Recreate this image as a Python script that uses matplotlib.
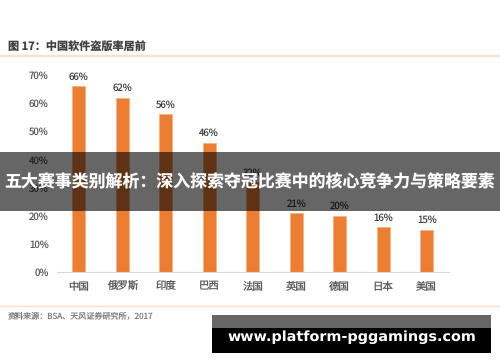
import matplotlib.pyplot as plt
from matplotlib.patches import Rectangle

plt.rcParams['font.family'] = ['Noto Sans CJK SC', 'DejaVu Sans']
plt.rcParams['text.hinting'] = 'no_hinting'

countries = ["中国", "俄罗斯", "印度", "巴西", "法国", "英国", "德国", "日本", "美国"]
piracy_rate = [66, 62, 56, 46, 32, 21, 20, 16, 15]
y_ticks = [0, 10, 20, 30, 40, 50, 60, 70]

title = "图 17：中国软件盗版率居前"
source = "资料来源：BSA、天风证券研究所，2017"
banner = "五大赛事类别解析：深入探索夺冠比赛中的核心竞争力与策略要素"
site = "www.platform-pggamings.com"

fig = plt.figure(figsize=(5, 3.62), dpi=100)
ax = fig.add_axes([0.114, 0.2486, 0.783, 0.544])

x = range(len(countries))
ax.bar(x, piracy_rate, width=0.3, color="#ED7D31", edgecolor="#F4B183", linewidth=0.5)
for xi, v in zip(x, piracy_rate):
    ax.text(xi, v + 1.5, f"{v}%", ha="center", va="bottom", fontsize=7, color="#404040")

ax.set_xlim(-0.5, len(countries) - 0.5)
ax.set_ylim(0, 70)
ax.set_yticks(y_ticks)
ax.set_yticklabels([f"{t}%" for t in y_ticks], fontsize=7, color="#595959")
ax.set_xticks(list(x))
ax.set_xticklabels(countries, fontsize=7.5, color="#595959")
for lab in ax.get_xticklabels():
    lab.set_va("baseline")
ax.tick_params(axis="y", length=0, pad=6)
ax.tick_params(axis="x", length=0, pad=12.5)
for s in ["top", "right", "left"]:
    ax.spines[s].set_visible(False)
ax.spines["bottom"].set_color("#D9D9D9")

# header / footer decoration
fig.text(0.016, 0.873, title, fontsize=8, fontweight="bold", color="#404040", va="center")
fig.add_artist(plt.Line2D([0, 1], [0.845, 0.845], color="#FBE0C8", lw=1.5))
fig.add_artist(plt.Line2D([0, 1], [0.155, 0.155], color="#FBE0C8", lw=1))
fig.text(0.016, 0.124, source, fontsize=5.8, color="#7F7F7F", va="center")

# overlay banner
fig.add_artist(Rectangle((0, 0.417), 1, 0.163, transform=fig.transFigure,
                         facecolor="black", alpha=0.6, edgecolor="none"))
fig.text(0.5, 0.495, banner, fontsize=12.2, fontweight="bold", color="white",
         ha="center", va="center")

# site box
fig.add_artist(Rectangle((0.424, 0.025), 0.558, 0.069, transform=fig.transFigure,
                         facecolor="black", edgecolor="none"))
fig.add_artist(Rectangle((0.424, 0.094), 0.558, 0.036, transform=fig.transFigure,
                         facecolor="#666666", edgecolor="none"))
fig.text(0.703, 0.069, site, fontsize=10.4, fontweight="bold", color="white",
         ha="center", va="center", family="DejaVu Sans")

fig.savefig("out.png", dpi=100)
